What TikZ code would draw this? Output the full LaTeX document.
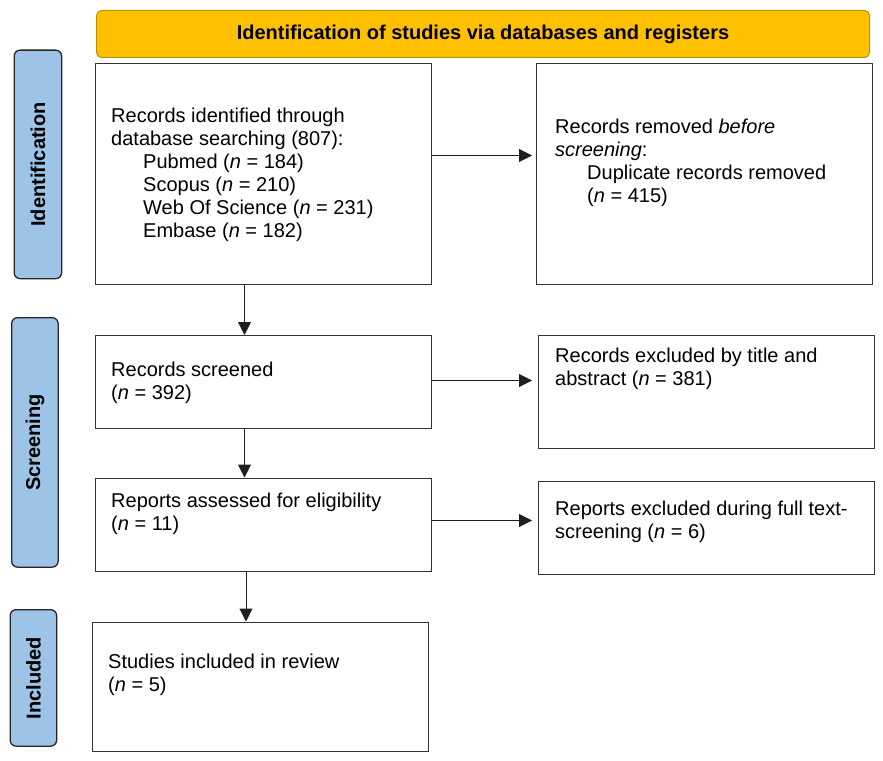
\documentclass[tikz,border=0pt]{standalone}
\usepackage{fontspec}
\setmainfont{Liberation Sans}
\usetikzlibrary{arrows.meta,shadows,calc}
\definecolor{bannerfill}{HTML}{FFC000}
\definecolor{bannerdraw}{HTML}{BF9000}
\definecolor{labfill}{HTML}{9DC3E6}
\definecolor{labdraw}{HTML}{262626}
\definecolor{arrcol}{HTML}{1E1E1E}
\tikzset{
  stagebox/.style={rectangle, draw=black!80, line width=0.9pt, fill=white, anchor=north west, inner sep=0pt,
    drop shadow={shadow xshift=1pt, shadow yshift=-1pt, opacity=1, fill=black}},
  sidelab/.style={rectangle, rounded corners=6pt, draw=labdraw, line width=1.3pt, fill=labfill, anchor=north west, inner sep=0pt},
  sidetxt/.style={rotate=90, font=\fontsize{20}{23}\selectfont\bfseries, inner sep=0pt},
  boxtxt/.style={anchor=north west, align=left, inner sep=0pt, font=\fontsize{20}{23}\selectfont},
  arr/.style={draw=arrcol, line width=1pt, -{Triangle[length=13pt,width=13pt]}},
}
\begin{document}
\begin{tikzpicture}[x=1pt,y=-1pt]
\useasboundingbox (0,0) rectangle (883,760);
% banner
\node[rectangle, rounded corners=5pt, draw=bannerdraw, line width=1pt, fill=bannerfill, anchor=north west,
  minimum width=773pt, minimum height=47pt, inner sep=0pt] (ban) at (96,10) {};
\node[font=\fontsize{20}{23}\selectfont\bfseries, inner sep=0pt] (bant) at (ban.center) {Identification of studies via databases and registers};
% side labels
\node[sidelab, minimum width=47.5pt, minimum height=228.5pt] (lab1) at (13.5,49.5) {};
\node[sidetxt] (lab1t) at (lab1.center) {Identification};
\node[sidelab, minimum width=46.5pt, minimum height=249.5pt] (lab2) at (11,317) {};
\node[sidetxt] (lab2t) at (lab2.center) {Screening};
\node[sidelab, minimum width=46.5pt, minimum height=136.5pt] (lab3) at (9.5,609) {};
\node[sidetxt] (lab3t) at (lab3.center) {Included};
% boxes
\node[stagebox, minimum width=336pt, minimum height=221pt] (b1) at (95,63) {};
\node[stagebox, minimum width=336pt, minimum height=221pt] (b2) at (536,63) {};
\node[stagebox, minimum width=336pt, minimum height=93pt] (b3) at (95,335) {};
\node[stagebox, minimum width=335.5pt, minimum height=112.5pt] (b4) at (538,335) {};
\node[stagebox, minimum width=336pt, minimum height=93pt] (b5) at (95,477.5) {};
\node[stagebox, minimum width=335.5pt, minimum height=93pt] (b6) at (538,481) {};
\node[stagebox, minimum width=336pt, minimum height=129pt] (b7) at (91.5,621.5) {};
% texts
\node[boxtxt] (t1) at (111,107.5) {Records identified through\\database searching (807):\\\hspace*{32pt}Pubmed (\textit{n} = 184)\\\hspace*{32pt}Scopus (\textit{n} = 210)\\\hspace*{32pt}Web Of Science (\textit{n} = 231)\\\hspace*{32pt}Embase (\textit{n} = 182)};
\node[boxtxt] (t2) at (555,119) {Records removed \textit{before}\\\textit{screening}:\\\hspace*{32pt}Duplicate records removed\\\hspace*{32pt}(\textit{n} = 415)};
\node[boxtxt] (t3) at (111,361.5) {Records screened\\(\textit{n} = 392)};
\node[boxtxt] (t4) at (555,347.5) {Records excluded by title and\\abstract (\textit{n} = 381)};
\node[boxtxt] (t5) at (111,492.5) {Reports assessed for eligibility\\(\textit{n} = 11)};
\node[boxtxt] (t6) at (555,500.5) {Reports excluded during full text-\\screening (\textit{n} = 6)};
\node[boxtxt] (t7) at (108,653.5) {Studies included in review\\(\textit{n} = 5)};
% arrows
\coordinate (p1) at ($(b1.north east)+(0,92.5)$);
\coordinate (p2) at ($(b3.north east)+(0,45.5)$);
\coordinate (p3) at ($(b5.north east)+(0,43)$);
\draw[arr, shorten >=4pt] (p1) -- (p1 -| b2.west);
\draw[arr, shorten >=6pt] (p2) -- (p2 -| b4.west);
\draw[arr, shorten >=6pt] (p3) -- (p3 -| b6.west);
\coordinate (q1) at ($(b1.south west)+(149.5,0)$);
\coordinate (q2) at ($(b3.south west)+(149.5,0)$);
\coordinate (q3) at ($(b5.south west)+(151,0)$);
\draw[arr] (q1) -- (q1 |- b3.north);
\draw[arr] (q2) -- (q2 |- b5.north);
\draw[arr] (q3) -- (q3 |- b7.north);
\end{tikzpicture}
\end{document}
